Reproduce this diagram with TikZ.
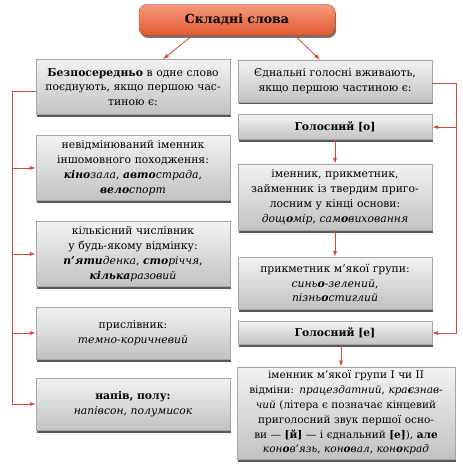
\documentclass[tikz,border=0pt]{standalone}
\usepackage{fontspec}
\setmainfont{DejaVu Serif}
\usepackage{xcolor}
\usepackage{tikz}
\usetikzlibrary{positioning, arrows.meta, shadows}

\definecolor{linkred}{HTML}{D8472F}
\definecolor{headtop}{HTML}{F59A7C}
\definecolor{headbot}{HTML}{E2582F}

\begin{document}
\begin{tikzpicture}[x=1pt, y=-1pt, on grid, font=\fontsize{10.8}{14.8}\selectfont,
        box/.style={draw=black!35, top color=black!5, bottom color=black!24,
            general shadow={fill=black!65, shadow xshift=1.2pt, shadow yshift=-2.5pt},
            minimum width=194pt, text width=188pt, align=center, inner xsep=3pt, inner ysep=4pt},
        wide/.style={box, minimum width=218pt, text width=212pt, font=\fontsize{10.5}{14.8}\selectfont},
        head/.style={draw=headbot!80!black, top color=headtop, bottom color=headbot,
            rounded corners=8pt, minimum width=196pt, minimum height=31pt,
            general shadow={fill=black!55, shadow xshift=1.2pt, shadow yshift=-2.5pt},
            font=\fontsize{12.5}{14}\selectfont\bfseries},
        link/.style={draw=linkred, line width=0.8pt, -{Latex[length=6pt,width=4pt]}}]
        \useasboundingbox (0,0) rectangle (462,470);

        \node[head] (top) at (237,20) {Складні слова};

        % left column
        \node[box, minimum height=55pt] (l1) at (133,87) {\textbf{Безпосередньо} в одне слово\\поєднують, якщо першою час-\\тиною є:};
        \node[box, minimum height=65pt] (l2) [below=81pt of l1] {невідмінюваний іменник\\іншомовного походження:\\\textit{\textbf{кіно}зала}, \textit{\textbf{авто}страда},\\\textit{\textbf{вело}спорт}};
        \node[box, minimum height=65pt] (l3) [below=86pt of l2] {кількісний числівник\\у будь-якому відмінку:\\\textit{\textbf{п’яти}денка}, \textit{\textbf{сто}річчя},\\\textit{\textbf{кілька}разовий}};
        \node[box, minimum height=52pt] (l4) [below=79pt of l3] {прислівник:\\\textit{темно-коричневий}};
        \node[box, minimum height=52pt] (l5) [below=71pt of l4] {\textbf{напів, полу:}\\\textit{напівсон, полумисок}};

        % right column
        \node[box, minimum height=42pt] (r1) at (335,81) {Єднальні голосні вживають,\\якщо першою частиною є:};
        \node[box, minimum height=25pt] (ro) [below=46pt of r1] {\textbf{Голосний [о]}};
        \node[box, minimum height=66pt] (r2) [below=70pt of ro] {іменник, прикметник,\\займенник із твердим приго-\\лосним у кінці основи:\\\textit{дощ\textbf{о}мір}, \textit{сам\textbf{о}виховання}};
        \node[box, minimum height=52pt] (r3) [below=86pt of r2] {прикметник м’якої групи:\\\textit{синь\textbf{о}-зелений},\\\textit{пізнь\textbf{о}стиглий}};
        \node[box, minimum height=23pt] (re) [below=50pt of r3] {\textbf{Голосний [е]}};
        \node[wide, minimum height=89pt] (r4) [below=80pt of re, xshift=11pt] {іменник м’якої групи І чи ІІ\\відміни: \textit{працездатний}, \textit{кра\textbf{є}знав-}\\\textit{чий} (літера є позначає кінцевий\\приголосний звук першої осно-\\ви — \textbf{[й]} — і єднальний \textbf{[е]}), \textbf{але}\\\textit{кон\textbf{о}в’язь}, \textit{кон\textbf{о}вал}, \textit{кон\textbf{о}крад}};

        \coordinate (lbus) at (12,91);
        \coordinate (rbus) at (456,83);

        \draw[link] ([xshift=-45pt]top.south) -- ([xshift=30pt]l1.north);
        \draw[link] ([xshift=58pt]top.south) -- ([xshift=-15pt]r1.north);

        \draw[linkred, line width=0.8pt] (l1.west |- lbus) -- (lbus) -- (lbus |- l5.west);
        \draw[link] (lbus |- l2.west) -- (l2.west);
        \draw[link] (lbus |- l3.west) -- (l3.west);
        \draw[link] (lbus |- l4.west) -- (l4.west);
        \draw[link] (lbus |- l5.west) -- (l5.west);

        \draw[linkred, line width=0.8pt] (r1.east |- rbus) -- (rbus) -- (rbus |- ro.east);
        \draw[link] (rbus |- ro.east) -- (ro.east);
        \draw[link] (rbus |- ro.east) |- (re.east);

        \draw[link] (ro) -- (r2);
        \draw[link] (r2) -- (r3);
        \draw[link] ([xshift=6pt]re.south) -- ([xshift=-5pt]r4.north);

\end{tikzpicture}
\end{document}
